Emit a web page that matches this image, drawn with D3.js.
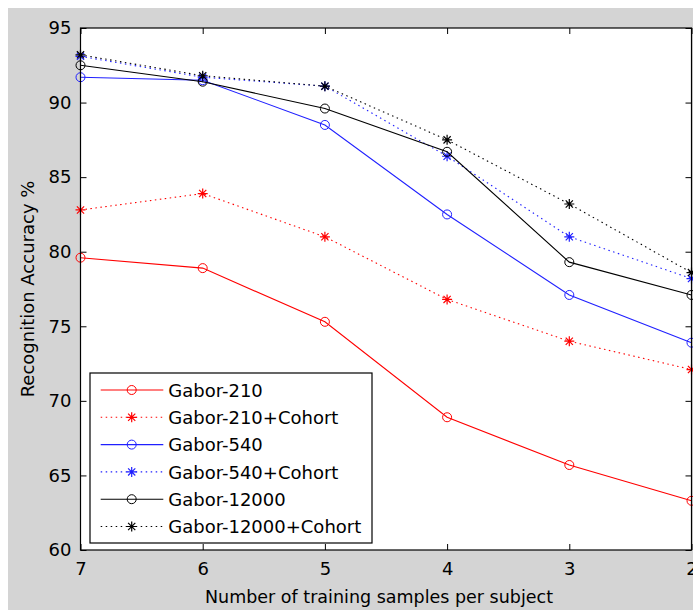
<!DOCTYPE html>
<html>
<head>
<meta charset="utf-8">
<script src="https://cdn.jsdelivr.net/npm/d3@7"></script>
<style>
  body { margin: 0; background: #ffffff; }
  svg text { font-family: "DejaVu Sans", sans-serif; }
</style>
</head>
<body>
<svg id="chart" width="693" height="610"></svg>
<script>
// number of training samples per subject (x axis runs 7 -> 2)
let samples = [7, 6, 5, 4, 3, 2];

// recognition accuracy % for every method
let gabor210 = [79.6, 78.9, 75.3, 68.9, 65.7, 63.3];
let gabor210Cohort = [82.8, 83.9, 81.0, 76.8, 74.0, 72.1];
let gabor540 = [91.7, 91.5, 88.5, 82.5, 77.1, 73.9];
let gabor540Cohort = [93.1, 91.7, 91.1, 86.4, 81.0, 78.2];
let gabor12000 = [92.5, 91.4, 89.6, 86.7, 79.3, 77.1];
let gabor12000Cohort = [93.2, 91.8, 91.1, 87.5, 83.2, 78.6];

let seriesNames = ["Gabor-210", "Gabor-210+Cohort", "Gabor-540",
    "Gabor-540+Cohort", "Gabor-12000", "Gabor-12000+Cohort"];

let yTicks = [60, 65, 70, 75, 80, 85, 90, 95];

// styling for each series, same order as the names
let styles = [
    { values: gabor210, color: "#ff0000", dotted: false, marker: "circle" },
    { values: gabor210Cohort, color: "#ff0000", dotted: true, marker: "star" },
    { values: gabor540, color: "#2020ff", dotted: false, marker: "circle" },
    { values: gabor540Cohort, color: "#2020ff", dotted: true, marker: "star" },
    { values: gabor12000, color: "#000000", dotted: false, marker: "circle" },
    { values: gabor12000Cohort, color: "#000000", dotted: true, marker: "star" }
];

let svg = d3.select("#chart");

// figure background (matlab grey)
svg.append("rect")
    .attr("x", 8).attr("y", 8)
    .attr("width", 685).attr("height", 602)
    .attr("fill", "#d4d4d4");

let plotLeft = 80.5, plotRight = 691.5, plotTop = 28, plotBottom = 550;

let x = d3.scaleLinear().domain([7, 2]).range([plotLeft, plotRight]);
let y = d3.scaleLinear().domain([60, 95]).range([plotBottom, plotTop]);

// axes area
svg.append("rect")
    .attr("x", plotLeft).attr("y", plotTop)
    .attr("width", plotRight - plotLeft).attr("height", plotBottom - plotTop)
    .attr("fill", "#ffffff");

// axes with inward ticks
let styleAxis = function (g) {
    g.select(".domain").remove();
    g.selectAll("line").attr("stroke", "#000");
    g.selectAll("text")
        .attr("fill", "#000")
        .style("font-size", "18px")
        .style("font-family", "DejaVu Sans, sans-serif");
}

svg.append("g")
    .attr("transform", "translate(0," + plotBottom + ")")
    .call(d3.axisBottom(x).tickValues(samples).tickFormat(d3.format("d"))
        .tickSizeInner(-6).tickSizeOuter(0).tickPadding(12))
    .call(styleAxis);

svg.append("g")
    .attr("transform", "translate(0," + plotTop + ")")
    .call(d3.axisTop(x).tickValues(samples).tickFormat("")
        .tickSizeInner(-6).tickSizeOuter(0))
    .call(styleAxis);

svg.append("g")
    .attr("transform", "translate(" + plotLeft + ",0)")
    .call(d3.axisLeft(y).tickValues(yTicks).tickFormat(d3.format("d"))
        .tickSizeInner(-6).tickSizeOuter(0).tickPadding(9))
    .call(styleAxis);

svg.append("g")
    .attr("transform", "translate(" + plotRight + ",0)")
    .call(d3.axisRight(y).tickValues(yTicks).tickFormat("")
        .tickSizeInner(-6).tickSizeOuter(0))
    .call(styleAxis);

let line = d3.line()
    .x(function (d) { return x(d.x); })
    .y(function (d) { return y(d.y); });

let starPath = "M-5,0H5M0,-5V5M-3.6,-3.6L3.6,3.6M-3.6,3.6L3.6,-3.6";

let drawMarker = function (g, type, color, cx, cy) {
    if (type === "circle") {
        g.append("circle")
            .attr("cx", cx).attr("cy", cy).attr("r", 4.5)
            .attr("fill", "none")
            .attr("stroke", color)
            .attr("stroke-width", 1);
    } else {
        g.append("path")
            .attr("d", starPath)
            .attr("transform", "translate(" + cx + "," + cy + ")")
            .attr("fill", "none")
            .attr("stroke", color)
            .attr("stroke-width", 1.2);
    }
}

let plot = svg.append("g");

styles.forEach(function (s) {
    let pts = samples.map(function (v, i) { return { x: v, y: s.values[i] }; });
    plot.append("path")
        .datum(pts)
        .attr("d", line)
        .attr("fill", "none")
        .attr("stroke", s.color)
        .attr("stroke-width", 1.1)
        .attr("stroke-dasharray", s.dotted ? "1.5,3.5" : null);
    pts.forEach(function (p) {
        drawMarker(plot, s.marker, s.color, x(p.x), y(p.y));
    });
});

// axes box on top
svg.append("rect")
    .attr("x", plotLeft).attr("y", plotTop)
    .attr("width", plotRight - plotLeft).attr("height", plotBottom - plotTop)
    .attr("fill", "none")
    .attr("stroke", "#000")
    .attr("stroke-width", 1.2);

// axis titles
svg.append("text")
    .attr("x", 379).attr("y", 603)
    .attr("text-anchor", "middle")
    .attr("textLength", 348)
    .attr("lengthAdjust", "spacingAndGlyphs")
    .style("font-size", "18px")
    .text("Number of training samples per subject");

svg.append("text")
    .attr("transform", "translate(33.5," + ((plotTop + plotBottom) / 2) + ") rotate(-90)")
    .attr("text-anchor", "middle")
    .style("font-size", "18px")
    .text("Recognition Accuracy %");

// legend
let legend = svg.append("g");
legend.append("rect")
    .attr("x", 90).attr("y", 373)
    .attr("width", 282).attr("height", 170)
    .attr("fill", "#ffffff")
    .attr("stroke", "#000")
    .attr("stroke-width", 1.2);

seriesNames.forEach(function (name, i) {
    let s = styles[i];
    let ry = 390 + i * 27.3;
    legend.append("line")
        .attr("x1", 100.7).attr("x2", 163.3)
        .attr("y1", ry).attr("y2", ry)
        .attr("stroke", s.color)
        .attr("stroke-width", 1.1)
        .attr("stroke-dasharray", s.dotted ? "1.5,3.5" : null);
    drawMarker(legend, s.marker, s.color, 131.7, ry);
    legend.append("text")
        .attr("x", 168.3).attr("y", ry + 6.6)
        .style("font-size", "18px")
        .text(name);
});
</script>
</body>
</html>
